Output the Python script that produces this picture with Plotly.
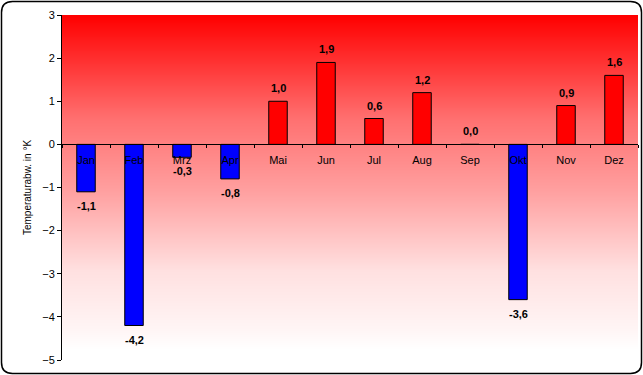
import plotly.graph_objects as go

months = ["Jan", "Feb", "Mrz", "Apr", "Mai", "Jun", "Jul", "Aug", "Sep", "Okt", "Nov", "Dez"]
values = [-1.1, -4.2, -0.3, -0.8, 1.0, 1.9, 0.6, 1.2, 0.0, -3.6, 0.9, 1.6]
y_range = [-5, 3]
y_ticks = [-5, -4, -3, -2, -1, 0, 1, 2, 3]

W, H = 643, 375
ML, MR, MT, MB = 62, 5, 15, 15
FONT = "Liberation Sans, Arial, sans-serif"

bar_colors = ["#0000FF" if v < 0 else "#FF0000" for v in values]
labels = [f"{v:.1f}".replace(".", ",") for v in values]

bg_scale = [
    [0.0, "#FFFFFF"], [0.03, "#FFFFFF"], [0.0875, "#FFF5F5"],
    [0.26, "#FFE0E0"], [0.49, "#FFA0A0"], [0.70, "#FF7070"],
    [0.87, "#FF3030"], [1.0, "#FF0000"],
]

fig = go.Figure()

# gradient background (white at bottom -> red at top)
fig.add_trace(go.Heatmap(
    x=months, y=y_range,
    z=[[y_range[0]] * len(months), [y_range[1]] * len(months)],
    colorscale=bg_scale,
    zmin=y_range[0], zmax=y_range[1], zsmooth="best",
    showscale=False, hoverinfo="skip",
))

fig.add_trace(go.Bar(
    x=months, y=values,
    marker=dict(color=bar_colors, line=dict(color="black", width=1)),
    hoverinfo="x+y",
))

for m, v, t in zip(months, values, labels):
    fig.add_annotation(
        x=m, y=v, text=f"<b>{t}</b>", showarrow=False,
        yanchor="middle", yshift=13 if v >= 0 else -14,
        font=dict(family=FONT, size=11, color="black"),
    )

# rounded border around the whole chart
pw, ph = W - ML - MR, H - MT - MB
def px(x):
    return (x - ML) / pw
def py(y):
    return 1 - (y - MT) / ph
x0, x1, y0, y1, r = 1.5, 641.5, 1.5, 373.5, 11
path = (
    f"M {px(x0 + r)},{py(y0)} L {px(x1 - r)},{py(y0)} "
    f"Q {px(x1)},{py(y0)} {px(x1)},{py(y0 + r)} L {px(x1)},{py(y1 - r)} "
    f"Q {px(x1)},{py(y1)} {px(x1 - r)},{py(y1)} L {px(x0 + r)},{py(y1)} "
    f"Q {px(x0)},{py(y1)} {px(x0)},{py(y1 - r)} L {px(x0)},{py(y0 + r)} "
    f"Q {px(x0)},{py(y0)} {px(x0 + r)},{py(y0)} Z"
)
fig.add_shape(type="path", path=path, xref="paper", yref="paper",
              line=dict(color="black", width=1.5), layer="above")

zero_pos = (0 - y_range[0]) / (y_range[1] - y_range[0])

fig.update_layout(
    width=W, height=H,
    margin=dict(l=ML, r=MR, t=MT, b=MB),
    paper_bgcolor="white", plot_bgcolor="white",
    showlegend=False,
    bargap=0.615,
    font=dict(family=FONT, size=11, color="black"),
    xaxis=dict(
        type="category", categoryorder="array", categoryarray=months,
        range=[-0.5, len(months) - 0.5],
        anchor="free", position=zero_pos,
        showline=True, linecolor="black", linewidth=1,
        ticks="outside", ticklen=3, tickcolor="black", tickson="boundaries",
        ticklabelstandoff=5,
        showgrid=False, zeroline=False,
        tickfont=dict(family=FONT, size=11, color="black"),
    ),
    yaxis=dict(
        range=y_range, tickvals=y_ticks,
        showline=True, linecolor="black", linewidth=1,
        ticks="outside", ticklen=4, tickcolor="black",
        showgrid=False, zeroline=False,
        tickfont=dict(family=FONT, size=11, color="black"),
        title=dict(text="Temperaturabw. in °K", standoff=8,
                   font=dict(family=FONT, size=10, color="black")),
    ),
)

fig.write_html(
    "out.html",
    config={"displayModeBar": False},
    post_script="document.body.style.margin='0';document.body.style.overflow='hidden';",
)
